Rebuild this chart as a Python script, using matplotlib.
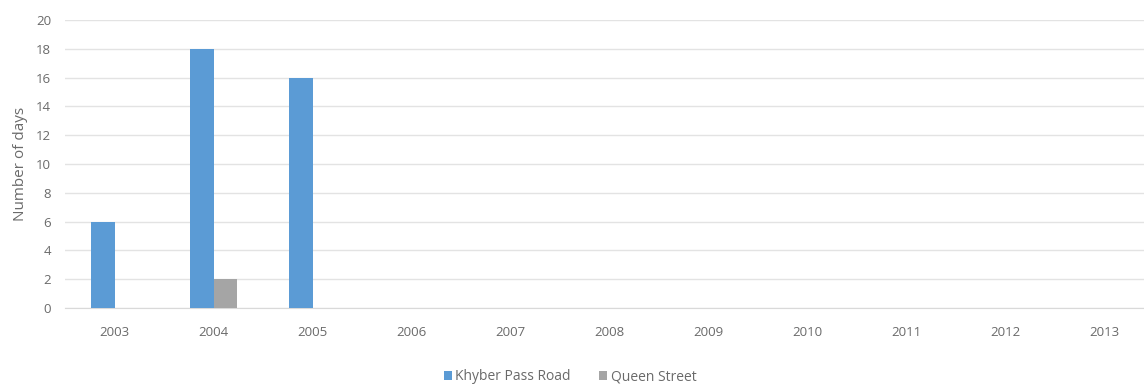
import matplotlib
matplotlib.use("Agg")
import matplotlib.pyplot as plt
import numpy as np

years = ["2003", "2004", "2005", "2006", "2007", "2008", "2009", "2010", "2011", "2012", "2013"]
khyber = [6, 18, 16, 0, 0, 0, 0, 0, 0, 0, 0]
queen = [0, 2, 0, 0, 0, 0, 0, 0, 0, 0, 0]

plt.rcParams['font.family'] = ['Open Sans', 'DejaVu Sans']

W, H = 1144, 388
fig = plt.figure(figsize=(W / 100, H / 100), dpi=100)
left_px, right_px = 65, 1144
top_px, bot_px = 20, 308
ax = fig.add_axes([left_px / W, 1 - bot_px / H, (right_px - left_px) / W, (bot_px - top_px) / H])

spacing = 99.0
x = np.arange(len(years))
bw = 0.24
ax.bar(x - bw / 2, khyber, width=bw, color="#5B9BD5", label="Khyber Pass Road", zorder=3)
ax.bar(x + bw / 2, queen, width=bw, color="#A5A5A5", label="Queen Street", zorder=3)

ax.set_xlim(-0.5, -0.5 + (right_px - left_px) / spacing)
ax.set_ylim(0, 20)
ax.set_yticks(range(0, 21, 2))
ax.set_xticks(x)
ax.set_xticklabels(years)
ax.grid(axis="y", color="#E3E3E3", linewidth=1, zorder=0)
for s in ["top", "right", "left"]:
    ax.spines[s].set_visible(False)
ax.spines["bottom"].set_color("#D9D9D9")
ax.tick_params(axis="both", length=0, colors="#6A6A6A", labelsize=9.5)
ax.tick_params(axis="x", pad=13)
ax.tick_params(axis="y", pad=10)
ax.set_ylabel("Number of days", color="#6A6A6A", fontsize=11)
ax.yaxis.set_label_coords(-37 / (right_px - left_px), 0.5)

fig.legend(loc="center", bbox_to_anchor=(570 / W, 1 - 377 / H), ncol=2, frameon=False,
           fontsize=10, handlelength=0.6, handleheight=0.6, handletextpad=0.25,
           columnspacing=2.0, labelcolor="#6A6A6A")

fig.savefig("out.png", dpi=100)
